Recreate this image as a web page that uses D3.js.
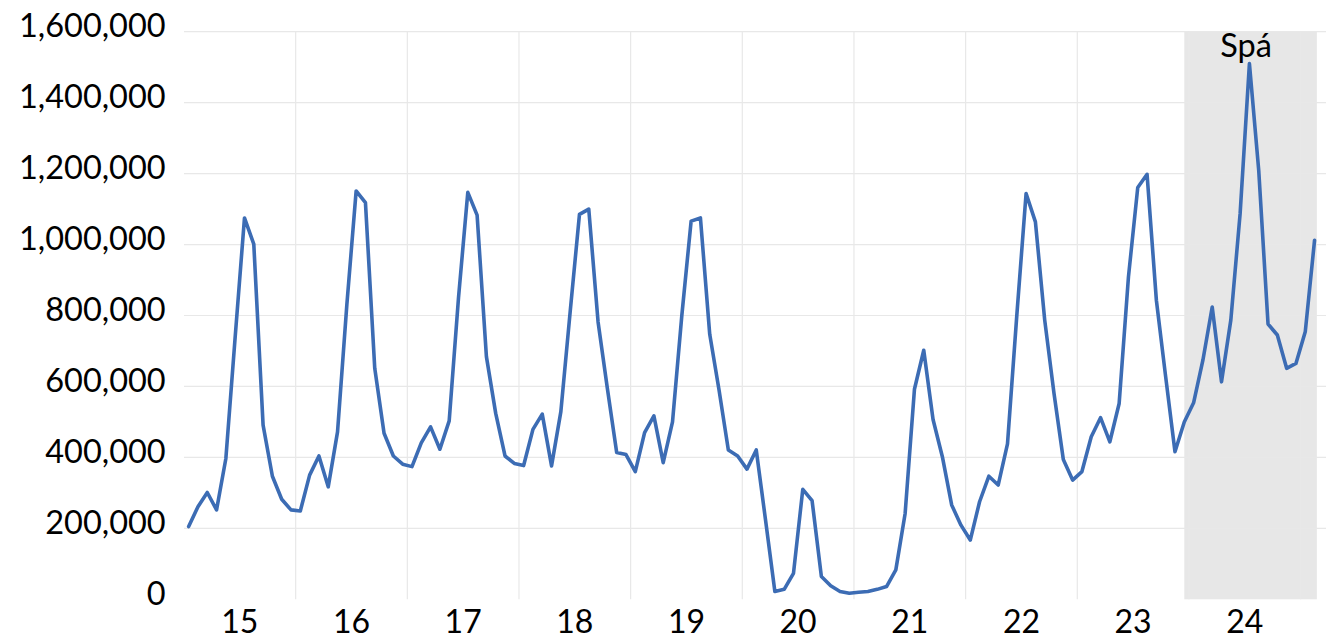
<!DOCTYPE html>
<html>
<head>
<meta charset="utf-8">
<script src="https://cdn.jsdelivr.net/npm/d3@7"></script>
<style>
  html, body { margin: 0; padding: 0; background: #ffffff; overflow: hidden; }
  svg { display: block; }
  text { font-family: Lato, "Open Sans", sans-serif; fill: #000; }
</style>
</head>
<body>
<svg id="chart" width="1326" height="641"></svg>
<script>
// ---- data (monthly, Jan 2015 – Feb 2025) ----
const startYear = 2015;
const yearLabels = ["15", "16", "17", "18", "19", "20", "21", "22", "23", "24"];
const yTicks = [0, 200000, 400000, 600000, 800000, 1000000, 1200000, 1400000, 1600000];
const values2015 = [205000, 261000, 301000, 252000, 397000, 740000, 1075000, 1001000, 491000, 347000, 282000, 252000];
const values2016 = [249000, 350000, 404000, 317000, 472000, 830000, 1151000, 1118000, 651000, 468000, 404000, 381000];
const values2017 = [374000, 441000, 486000, 423000, 503000, 850000, 1147000, 1083000, 684000, 524000, 404000, 383000];
const values2018 = [377000, 479000, 522000, 376000, 529000, 810000, 1085000, 1100000, 782000, 594000, 414000, 408000];
const values2019 = [360000, 470000, 517000, 385000, 500000, 800000, 1066000, 1075000, 747000, 590000, 421000, 404000];
const values2020 = [367000, 421000, 223000, 22000, 28000, 73000, 310000, 278000, 64000, 38000, 22000, 17000];
const values2021 = [20000, 22000, 28000, 36000, 83000, 242000, 592000, 702000, 507000, 402000, 266000, 209000];
const values2022 = [167000, 275000, 347000, 322000, 438000, 800000, 1144000, 1064000, 787000, 580000, 394000, 336000];
const values2023 = [360000, 458000, 512000, 444000, 552000, 909000, 1161000, 1198000, 843000, 627000, 416000, 500000];
const values2024 = [554000, 674000, 824000, 613000, 787000, 1087000, 1510000, 1209000, 776000, 745000, 651000, 665000];
const values2025 = [754000, 1012000];
const forecastLabel = "Spá";
const forecastStart = { year: 2023, month: 12 };

const values = [].concat(values2015, values2016, values2017, values2018, values2019,
  values2020, values2021, values2022, values2023, values2024, values2025);
const series = values.map((v, i) => ({ i, v }));
const forecastStartIndex = (forecastStart.year - startYear) * 12 + (forecastStart.month - 1);

// ---- layout ----
const svg = d3.select("#chart");
const plotLeft = 184, plotTop = 31.7, plotBottom = 599.3;
const monthW = 9.305;
const totalMonths = 132; // axis spans 11 years (cropped at right)

const x = d3.scaleLinear().domain([0, totalMonths]).range([plotLeft, plotLeft + monthW * totalMonths]);
const y = d3.scaleLinear().domain([0, 1600000]).range([plotBottom, plotTop]);
const px = i => x(i + 0.5);

// forecast shading
svg.append("rect")
  .attr("x", px(forecastStartIndex))
  .attr("y", plotTop)
  .attr("width", px(values.length - 1) + 2.3 - px(forecastStartIndex))
  .attr("height", plotBottom - plotTop)
  .attr("fill", "#e7e7e7");

// horizontal gridlines
svg.append("g").selectAll("line").data(yTicks.filter(t => t > 0)).join("line")
  .attr("x1", plotLeft).attr("x2", x(totalMonths))
  .attr("y1", d => y(d)).attr("y2", d => y(d))
  .attr("stroke", "#e8e8e8").attr("stroke-width", 1.2);

// vertical year gridlines
const yearBounds = d3.range(1, 11).map(k => k * 12);
svg.append("g").selectAll("line").data(yearBounds).join("line")
  .attr("x1", d => x(d)).attr("x2", d => x(d))
  .attr("y1", plotTop).attr("y2", plotBottom)
  .attr("stroke", "#e8e8e8").attr("stroke-width", 1.2);

// y axis labels
const fmt = d3.format(",");
svg.append("g").selectAll("text").data(yTicks).join("text")
  .attr("x", 165.7)
  .attr("y", d => y(d) - 7)
  .attr("text-anchor", "end")
  .attr("dominant-baseline", "central")
  .style("font-size", "32.5px")
  .text(d => fmt(d));

// x axis (year) labels
svg.append("g").selectAll("text").data(yearLabels).join("text")
  .attr("x", (d, k) => x(k * 12 + 6))
  .attr("y", 633)
  .attr("text-anchor", "middle")
  .style("font-size", "32px")
  .text(d => d);

// line
const line = d3.line().x(d => px(d.i)).y(d => y(d.v));
svg.append("path")
  .datum(series)
  .attr("d", line)
  .attr("fill", "none")
  .attr("stroke", "#3c6cb4")
  .attr("stroke-width", 3.6)
  .attr("stroke-linejoin", "round")
  .attr("stroke-linecap", "round");

// forecast label
svg.append("text")
  .attr("x", 1246)
  .attr("y", 57)
  .attr("text-anchor", "middle")
  .style("font-size", "32.5px")
  .text(forecastLabel);
</script>
</body>
</html>
